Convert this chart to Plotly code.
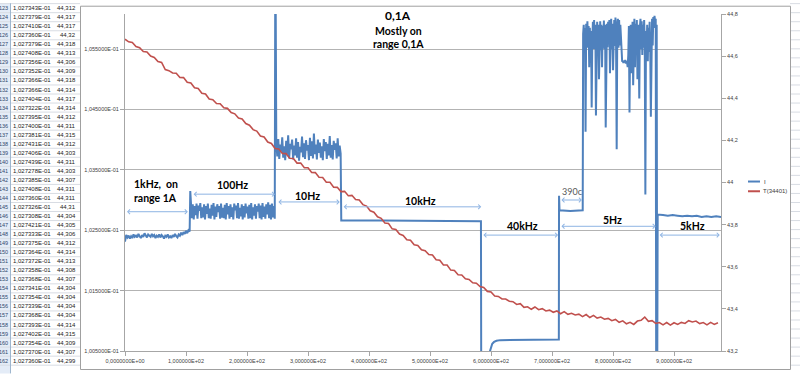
import numpy as np
import plotly.graph_objects as go

# ---------------- data ----------------
x_tick_vals = [0, 100, 200, 300, 400, 500, 600, 700, 800, 900]
x_tick_text = ["0,0000000E+00", "1,000000E+02", "2,000000E+02", "3,000000E+02",
               "4,000000E+02", "5,000000E+02", "6,000000E+02", "7,000000E+02",
               "8,000000E+02", "9,000000E+02"]
y_tick_vals = [0.1005, 0.1015, 0.1025, 0.1035, 0.1045, 0.1055]
y_tick_text = ["1,005000E-01", "1,015000E-01", "1,025000E-01", "1,035000E-01",
               "1,045000E-01", "1,055000E-01"]
y2_tick_vals = [43.2, 43.4, 43.6, 43.8, 44.0, 44.2, 44.4, 44.6, 44.8]
y2_tick_text = ["43,2", "43,4", "43,6", "43,8", "44", "44,2", "44,4", "44,6", "44,8"]

# current I, noisy segments (values in A)
I_1kHz = [0.10231, 0.10242, 0.10238, 0.10241, 0.10236, 0.10240, 0.10237, 0.10243, 0.10239,
          0.10241, 0.10238, 0.10244, 0.10240, 0.10237, 0.10242, 0.10239, 0.10245, 0.10240,
          0.10238, 0.10243, 0.10241, 0.10239, 0.10244, 0.10240, 0.10242, 0.10237, 0.10241,
          0.10239, 0.10243, 0.10238, 0.10242, 0.10240, 0.10236, 0.10241, 0.10239, 0.10243,
          0.10238, 0.10240, 0.10237, 0.10242, 0.10239, 0.10244, 0.10240, 0.10238, 0.10243,
          0.10241, 0.10246, 0.10242, 0.10247, 0.10244, 0.10249, 0.10245, 0.10250, 0.10248]
I_100Hz = [0.10296, 0.10270, 0.10293, 0.10268, 0.10290, 0.10275, 0.10294, 0.10269, 0.10291,
           0.10282, 0.10295, 0.10270, 0.10288, 0.10271, 0.10293, 0.10268, 0.10290, 0.10277,
           0.10294, 0.10270, 0.10286, 0.10269, 0.10292, 0.10274, 0.10295, 0.10268, 0.10289,
           0.10272, 0.10293, 0.10280, 0.10290, 0.10269, 0.10294, 0.10271, 0.10287, 0.10270,
           0.10292, 0.10268, 0.10295, 0.10276, 0.10290, 0.10269, 0.10293, 0.10272, 0.10288,
           0.10268, 0.10294, 0.10283, 0.10291, 0.10270, 0.10295, 0.10269, 0.10287, 0.10273,
           0.10293, 0.10268, 0.10290, 0.10271, 0.10294, 0.10278, 0.10289, 0.10269, 0.10292,
           0.10270, 0.10295, 0.10268, 0.10288, 0.10274, 0.10293, 0.10269, 0.10290, 0.10281,
           0.10294, 0.10270, 0.10291, 0.10268, 0.10295, 0.10272, 0.10289, 0.10269, 0.10293,
           0.10276, 0.10296, 0.10270, 0.10292, 0.10268, 0.10294, 0.10271, 0.10290, 0.10269]
I_10Hz = [0.10395, 0.10372, 0.10401, 0.10368, 0.10392, 0.10380, 0.10404, 0.10370, 0.10389,
          0.10366, 0.10398, 0.10375, 0.10407, 0.10369, 0.10393, 0.10384, 0.10400, 0.10367,
          0.10390, 0.10374, 0.10402, 0.10370, 0.10396, 0.10365, 0.10388, 0.10379, 0.10405,
          0.10371, 0.10394, 0.10368, 0.10399, 0.10382, 0.10391, 0.10366, 0.10403, 0.10373,
          0.10397, 0.10369, 0.10410, 0.10376, 0.10392, 0.10367, 0.10400, 0.10378, 0.10395,
          0.10370, 0.10389, 0.10366, 0.10401, 0.10381, 0.10396, 0.10368, 0.10393, 0.10374,
          0.10406, 0.10370, 0.10391, 0.10367, 0.10398, 0.10383, 0.10394, 0.10369, 0.10402,
          0.10372, 0.10390, 0.10377]
I_5Hz = [0.10575, 0.10590, 0.10548, 0.10585, 0.10413, 0.10592, 0.10556, 0.10596, 0.10552,
         0.10588, 0.10520, 0.10585, 0.10545, 0.10580, 0.10453, 0.10560, 0.10595, 0.10550,
         0.10598, 0.10555, 0.10590, 0.10440, 0.10580, 0.10595, 0.10545, 0.10590, 0.10500,
         0.10585, 0.10596, 0.10548, 0.10590, 0.10520, 0.10588, 0.10552, 0.10597, 0.10550,
         0.10590, 0.10420, 0.10585, 0.10592, 0.10553, 0.10595, 0.10558, 0.10598, 0.10510,
         0.10588, 0.10600, 0.10550, 0.10592, 0.10515, 0.10585, 0.10598, 0.10555, 0.10602,
         0.10560, 0.10384, 0.10590, 0.10600, 0.10552, 0.10598, 0.10556, 0.10590, 0.10570,
         0.10535, 0.10529, 0.10531, 0.10527, 0.10530, 0.10528, 0.10532, 0.10526, 0.10530,
         0.10528, 0.10520, 0.10540, 0.10588, 0.10445, 0.10560, 0.10590, 0.10510, 0.10552,
         0.10595, 0.10490, 0.10585, 0.10600, 0.10520, 0.10592, 0.10548, 0.10598, 0.10500,
         0.10590, 0.10560, 0.10468, 0.10585, 0.10600, 0.10550, 0.10596, 0.10540, 0.10590,
         0.10552, 0.10598, 0.10560, 0.10309, 0.10580, 0.10550, 0.10590, 0.10530, 0.10585,
         0.10545, 0.10595, 0.10552, 0.10438, 0.10590, 0.10600, 0.10556, 0.10603, 0.10585,
         0.10605, 0.10595, 0.10600]
I_5kHz = [0.10276, 0.10275, 0.10274, 0.10275, 0.10274, 0.10273, 0.10274, 0.10273, 0.10274,
          0.10272, 0.10273, 0.10272, 0.10273, 0.10272]

# steps / quiet parts of I: (time s, value A)
t_step_10kHz = [354.0, 354.5, 420.0, 500.0, 583.5]
I_step_10kHz = [0.10266, 0.10266, 0.10266, 0.10265, 0.10265]
t_step_40kHz = [584.0, 597.9, 598.4, 600.0, 602.0, 605.0, 609.0, 615.0, 640.0, 680.0, 711.2]
I_step_40kHz = [0.09980, 0.09980, 0.10050, 0.10058, 0.10062, 0.10065, 0.10067, 0.10068,
                0.10068, 0.10069, 0.10069]
t_step_390c = [711.5, 712.3, 730.0, 750.3]
I_step_390c = [0.10307, 0.10283, 0.10282, 0.10283]
t_step_off = [870.8, 871.6, 872.4, 873.2]
I_step_off = [0.09980, 0.10590, 0.09980, 0.10276]
t_spike_100Hz, I_spike_100Hz = 107.0, 0.10315
t_spike_10Hz, I_spike_10Hz = 246.5, 0.10750

# temperature T(34401), one reading every 6 s from 0 s
T_34401 = [44.680, 44.668, 44.665, 44.646, 44.640, 44.622, 44.620, 44.600, 44.594, 44.574,
           44.570, 44.536, 44.531, 44.520, 44.519, 44.499, 44.498, 44.476, 44.472, 44.450,
           44.446, 44.424, 44.420, 44.396, 44.393, 44.375, 44.374, 44.355, 44.352, 44.332,
           44.326, 44.306, 44.302, 44.280, 44.272, 44.251, 44.244, 44.221, 44.216, 44.192,
           44.185, 44.161, 44.159, 44.138, 44.137, 44.115, 44.114, 44.092, 44.092, 44.070,
           44.070, 44.048, 44.047, 44.025, 44.024, 44.001, 44.001, 43.978, 43.977, 43.957,
           43.958, 43.937, 43.939, 43.919, 43.917, 43.895, 43.888, 43.866, 43.859, 43.837,
           43.830, 43.808, 43.805, 43.780, 43.777, 43.755, 43.749, 43.728, 43.726, 43.704,
           43.701, 43.681, 43.676, 43.658, 43.656, 43.633, 43.631, 43.608, 43.608, 43.584,
           43.582, 43.562, 43.561, 43.543, 43.540, 43.524, 43.522, 43.506, 43.502, 43.483,
           43.480, 43.461, 43.459, 43.447, 43.447, 43.436, 43.434, 43.421, 43.425, 43.407,
           43.410, 43.398, 43.409, 43.396, 43.401, 43.390, 43.394, 43.384, 43.390, 43.377,
           43.387, 43.374, 43.379, 43.371, 43.375, 43.363, 43.373, 43.359, 43.369, 43.356,
           43.361, 43.351, 43.355, 43.344, 43.350, 43.336, 43.343, 43.329, 43.336, 43.326,
           43.342, 43.346, 43.361, 43.341, 43.344, 43.331, 43.335, 43.324, 43.335, 43.323,
           43.334, 43.326, 43.336, 43.331, 43.344, 43.338, 43.342, 43.330, 43.335, 43.324,
           43.336, 43.326, 43.334]
T_interval_s = 6.0

# interval arrows (start s, end s, level on the I axis) and their labels
arrow_spans = [(0.8, 103.0, 0.102806), (110.0, 246.0, 0.103097), (249.0, 352.0, 0.102968),
               (356.0, 584.0, 0.102887), (585.0, 710.0, 0.102419), (713.0, 749.0, 0.103000),
               (713.0, 870.0, 0.102565), (874.0, 975.0, 0.102419)]
label_texts = ["1kHz,  on", "range 1A", "100Hz", "10Hz", "10kHz", "40kHz", "5Hz", "5kHz"]
label_pos = [(50.0, 0.103258), (50.0, 0.103032), (175.4, 0.103242), (298.4, 0.103065),
             (485.2, 0.102984), (650.8, 0.102565), (798.4, 0.102661), (929.5, 0.102565)]
note_390c = ("390c", 732.8, 0.103145)
title_lines = ["0,1A", "Mostly on", "range 0,1A"]

# worksheet cells visible left of the chart
sheet_rows = list(range(123, 163))
sheet_I = ["1,027343E-01", "1,027379E-01", "1,027410E-01", "1,027360E-01", "1,027379E-01",
           "1,027408E-01", "1,027356E-01", "1,027352E-01", "1,027366E-01", "1,027366E-01",
           "1,027404E-01", "1,027322E-01", "1,027395E-01", "1,027400E-01", "1,027381E-01",
           "1,027431E-01", "1,027406E-01", "1,027439E-01", "1,027278E-01", "1,027385E-01",
           "1,027408E-01", "1,027360E-01", "1,027326E-01", "1,027308E-01", "1,027421E-01",
           "1,027333E-01", "1,027375E-01", "1,027364E-01", "1,027372E-01", "1,027358E-01",
           "1,027368E-01", "1,027341E-01", "1,027354E-01", "1,027339E-01", "1,027368E-01",
           "1,027393E-01", "1,027402E-01", "1,027354E-01", "1,027370E-01", "1,027360E-01"]
sheet_T = ["44,312", "44,317", "44,317", "44,32", "44,318", "44,313", "44,306", "44,309",
           "44,318", "44,314", "44,317", "44,314", "44,312", "44,311", "44,315", "44,312",
           "44,303", "44,311", "44,303", "44,307", "44,311", "44,311", "44,31", "44,304",
           "44,305", "44,306", "44,312", "44,314", "44,313", "44,308", "44,307", "44,304",
           "44,304", "44,304", "44,304", "44,314", "44,315", "44,309", "44,307", "44,299"]

# ---------------- build series ----------------
t_I, I_A = [], []
def add(ts, vs):
    t_I.extend(list(ts)); I_A.extend(list(vs))

add(np.linspace(0.0, 106.0, len(I_1kHz)), I_1kHz)
add([t_spike_100Hz], [I_spike_100Hz])
add(np.linspace(108.0, 245.5, len(I_100Hz)), I_100Hz)
add([t_spike_10Hz], [I_spike_10Hz])
add(np.linspace(248.0, 353.5, len(I_10Hz)), I_10Hz)
add(t_step_10kHz, I_step_10kHz)
add(t_step_40kHz, I_step_40kHz)
add(t_step_390c, I_step_390c)
add(np.linspace(751.0, 870.0, len(I_5Hz)), I_5Hz)
add(t_step_off, I_step_off)
add(np.linspace(874.0, 977.0, len(I_5kHz)), I_5kHz)

t_T = np.arange(len(T_34401)) * T_interval_s

# ---------------- figure ----------------
W, H = 800, 375
L, R, T, B = 125, 79, 11, 18
PW, PH = W - L - R, H - T - B

def px(xp):
    return (xp - L) / PW

def py(yp):
    return (H - B - yp) / PH

BLUE = "#4F81BD"
RED = "#C0504D"
AXIS = "#A6A6A6"
GRID = "#B3B3B3"
TICKF = dict(family="Liberation Sans, Arial, sans-serif", size=5.5, color="#404040")
LBLF = dict(family="Lato, Open Sans, sans-serif", size=10.5, color="#000000")

fig = go.Figure()
fig.add_trace(go.Scatter(x=t_I, y=I_A, mode="lines", name="I",
                         line=dict(color=BLUE, width=2), showlegend=False))
fig.add_trace(go.Scatter(x=t_T, y=T_34401, mode="lines", name="T(34401)", yaxis="y2",
                         line=dict(color=RED, width=1.6), showlegend=False))

annotations = []
for (a, b, lev) in arrow_spans:
    annotations.append(dict(x=b, y=lev, ax=a, ay=lev, xref="x", yref="y", axref="x", ayref="y",
                            text="", showarrow=True, arrowhead=4, startarrowhead=4,
                            arrowside="end+start", arrowsize=0.9, startarrowsize=0.9,
                            arrowwidth=1, arrowcolor="#8EB4E3", standoff=0, startstandoff=0))
for txt, (xv, yv) in zip(label_texts, label_pos):
    annotations.append(dict(x=xv, y=yv, xref="x", yref="y", text="<b>%s</b>" % txt,
                            showarrow=False, font=LBLF, xanchor="center", yanchor="middle"))
annotations.append(dict(x=note_390c[1], y=note_390c[2], xref="x", yref="y", text=note_390c[0],
                        showarrow=False, xanchor="center", yanchor="middle",
                        font=dict(family="Lato, sans-serif", size=9, color="#595959")))
for txt, yp, fs in zip(title_lines, [13, 28, 42], [12, 10.5, 10.5]):
    annotations.append(dict(x=px(398), y=py(yp), xref="paper", yref="paper",
                            text="<b>%s</b>" % txt, showarrow=False, xanchor="center",
                            yanchor="middle", font=dict(family="Lato, sans-serif", size=fs,
                                                        color="#000000")))
# legend (manual, narrow like the original)
annotations.append(dict(x=px(762), y=py(183), xref="paper", yref="paper", text="I",
                        showarrow=False, xanchor="left", yanchor="middle",
                        font=dict(family="Liberation Sans, sans-serif", size=6, color="#404040")))
annotations.append(dict(x=px(761), y=py(193), xref="paper", yref="paper", text="T(34401)",
                        showarrow=False, xanchor="left", yanchor="middle",
                        font=dict(family="Liberation Sans, sans-serif", size=6, color="#404040")))

# worksheet text
ROW0, ROWH = 5.0, 9.28
SHF = dict(family="Liberation Sans, Arial, sans-serif", size=6, color="#222222")
for i, (rn, vi, vt) in enumerate(zip(sheet_rows, sheet_I, sheet_T)):
    yy = py(ROW0 + i * ROWH)
    annotations.append(dict(x=px(10), y=yy, xref="paper", yref="paper", text=str(rn),
                            showarrow=False, xanchor="right", yanchor="middle",
                            font=dict(family="Liberation Sans, sans-serif", size=5.5,
                                      color="#30486b")))
    annotations.append(dict(x=px(53), y=yy, xref="paper", yref="paper", text=vi,
                            showarrow=False, xanchor="right", yanchor="middle", font=SHF))
    annotations.append(dict(x=px(78), y=yy, xref="paper", yref="paper", text=vt,
                            showarrow=False, xanchor="right", yanchor="middle", font=SHF))

shapes = []
# row header band
shapes.append(dict(type="rect", xref="paper", yref="paper", x0=px(-2), x1=px(10.5),
                   y0=py(380), y1=py(0), fillcolor="#E4ECF7", line=dict(width=0), layer="below"))
for i in range(41):
    yb = py(ROW0 + (i - 0.5) * ROWH)
    shapes.append(dict(type="line", xref="paper", yref="paper", x0=px(0), x1=px(80),
                       y0=yb, y1=yb, line=dict(color="#D8DCE3", width=1), layer="below"))
    shapes.append(dict(type="line", xref="paper", yref="paper", x0=px(790), x1=px(801),
                       y0=yb, y1=yb, line=dict(color="#D8DCE3", width=1), layer="below"))
shapes.append(dict(type="line", xref="paper", yref="paper", x0=px(10.5), x1=px(10.5),
                   y0=py(380), y1=py(0), line=dict(color="#9EB6CE", width=1), layer="below"))
# chart-area border
shapes.append(dict(type="rect", xref="paper", yref="paper", x0=px(80.5), x1=px(790.5),
                   y0=py(376), y1=py(3), line=dict(color="#A0A0A0", width=1),
                   fillcolor="rgba(0,0,0,0)", layer="below"))
# legend keys
shapes.append(dict(type="line", xref="paper", yref="paper", x0=px(748), x1=px(760),
                   y0=py(183), y1=py(183), line=dict(color=BLUE, width=2)))
shapes.append(dict(type="line", xref="paper", yref="paper", x0=px(748), x1=px(760),
                   y0=py(193), y1=py(193), line=dict(color=RED, width=2)))

fig.update_layout(
    width=W, height=H, margin=dict(l=L, r=R, t=T, b=B, pad=0),
    paper_bgcolor="white", plot_bgcolor="white", showlegend=False, hovermode=False,
    xaxis=dict(range=[0, 977], tickvals=x_tick_vals, ticktext=x_tick_text, showgrid=False,
               zeroline=False, showline=True, linecolor=AXIS, linewidth=1, ticks="outside",
               ticklen=4, tickcolor=AXIS, tickfont=TICKF, tickangle=0),
    yaxis=dict(range=[0.1005, 0.10608], tickvals=y_tick_vals, ticktext=y_tick_text,
               showgrid=True, gridcolor=GRID, gridwidth=1, zeroline=False, showline=True,
               linecolor=AXIS, linewidth=1, ticks="outside", ticklen=4, tickcolor=AXIS,
               tickfont=TICKF),
    yaxis2=dict(range=[43.2, 44.8], tickvals=y2_tick_vals, ticktext=y2_tick_text,
                overlaying="y", side="right", showgrid=False, zeroline=False, showline=True,
                linecolor=AXIS, linewidth=1, ticks="outside", ticklen=4, tickcolor=AXIS,
                tickfont=TICKF),
    annotations=annotations, shapes=shapes,
)

fig.write_html("out.html", config={"displayModeBar": False, "staticPlot": True},
               post_script="document.body.style.margin='0';document.body.style.overflow='hidden';")
